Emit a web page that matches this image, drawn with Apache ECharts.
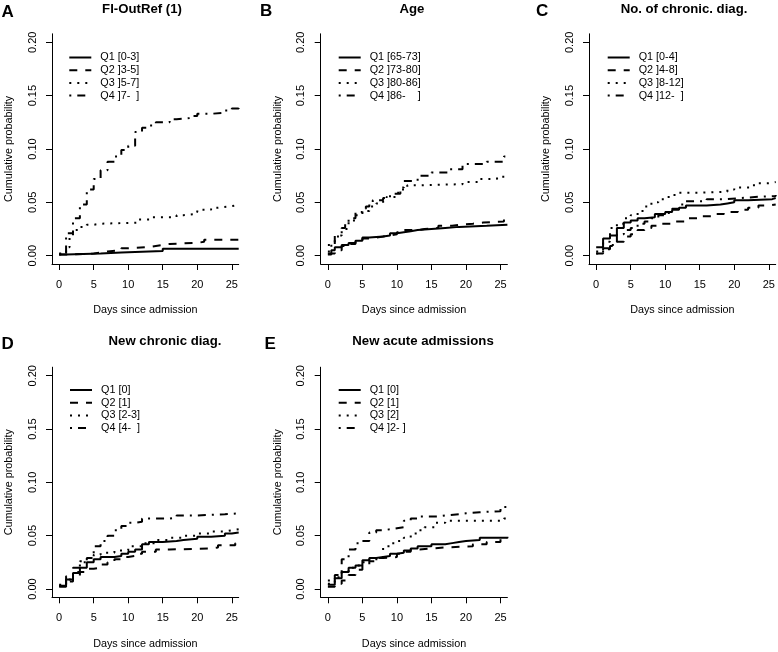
<!DOCTYPE html>
<html>
<head>
<meta charset="utf-8">
<script src="https://cdn.jsdelivr.net/npm/echarts@6/dist/echarts.min.js"></script>
<style>
html,body{margin:0;padding:0;background:#fff;}
#chart{width:778px;height:652px;}
</style>
</head>
<body>
<div id="chart"></div>
<script>
// ---------- data ----------
const panelLetters = ['A', 'B', 'C', 'D', 'E'];
const panelTitles = ['FI-OutRef (1)', 'Age', 'No. of chronic. diag.', 'New chronic diag.', 'New acute admissions'];
const xTicks = [0, 5, 10, 15, 20, 25];
const yTicks = [0, 0.05, 0.10, 0.15, 0.20];
const xTitle = 'Days since admission';
const yTitle = 'Cumulative probability';

const fiLabels = ['Q1 [0-3]', 'Q2 ]3-5]', 'Q3 ]5-7]', 'Q4 ]7-  ]'];
const ageLabels = ['Q1 [65-73]', 'Q2 ]73-80]', 'Q3 ]80-86]', 'Q4 ]86-    ]'];
const chronLabels = ['Q1 [0-4]', 'Q2 ]4-8]', 'Q3 ]8-12]', 'Q4 ]12-  ]'];
const newChronLabels = ['Q1 [0]', 'Q2 [1]', 'Q3 [2-3]', 'Q4 [4-  ]'];
const acuteLabels = ['Q1 [0]', 'Q2 [1]', 'Q3 [2]', 'Q4 ]2- ]'];

// [day, cumulative probability]
const fiQ1 = [[0,0.001],[1,0.002],[6,0.003],[9,0.0045],[15,0.0065],[26,0.0065]];
const fiQ2 = [[0,0.001],[1,0.002],[5,0.003],[6,0.004],[7,0.005],[9,0.007],[10,0.008],[13,0.009],[14,0.010],[15,0.011],[16,0.012],[20,0.013],[21,0.015],[26,0.016]];
const fiQ3 = [[0,0.002],[1,0.008],[1.5,0.018],[2,0.024],[3,0.027],[4,0.029],[5,0.030],[6,0.031],[11.5,0.034],[13.5,0.036],[17,0.038],[18,0.039],[19.5,0.041],[20,0.043],[22,0.045],[23,0.046],[24.5,0.047],[25.5,0.048],[26,0.048]];
const fiQ4 = [[0,0.001],[1,0.021],[2,0.035],[3,0.048],[4,0.062],[5,0.072],[6,0.080],[7,0.088],[8,0.093],[9,0.099],[10,0.103],[11,0.116],[12,0.120],[13,0.122],[14,0.125],[16,0.128],[17,0.129],[19,0.131],[20,0.133],[22,0.134],[24,0.136],[25,0.138],[26,0.139]];

const ageQ1 = [[0,0.001],[0.5,0.005],[1,0.008],[2,0.010],[3,0.012],[4,0.014],[5,0.017],[6,0.018],[8,0.019],[9,0.021],[10,0.022],[11,0.023],[12,0.024],[13,0.025],[15,0.026],[17,0.027],[19,0.028],[23,0.029],[26,0.029]];
const ageQ2 = [[0,0.002],[1,0.005],[2,0.009],[3,0.011],[4,0.013],[5,0.016],[6,0.017],[7,0.018],[8,0.019],[9,0.020],[10,0.022],[11,0.024],[13,0.025],[14,0.026],[16,0.028],[18,0.029],[19,0.030],[21,0.031],[22.5,0.032],[25.5,0.034],[26,0.034]];
const ageQ3 = [[0,0.004],[0.5,0.012],[1,0.018],[2,0.025],[3,0.033],[4,0.038],[5,0.042],[6,0.046],[7,0.049],[8,0.052],[8.5,0.055],[10,0.059],[10.5,0.062],[11.5,0.066],[13,0.067],[19.5,0.069],[22,0.072],[24.5,0.074],[26,0.075]];
const ageQ4 = [[0,0.010],[1,0.019],[2,0.026],[2.5,0.030],[3,0.035],[4,0.041],[5,0.044],[5.5,0.046],[6,0.049],[6.5,0.052],[8,0.054],[9,0.058],[10.5,0.064],[11,0.070],[13,0.075],[15,0.078],[17.5,0.081],[19.5,0.086],[23,0.088],[25.5,0.093],[26,0.093]];

const chronQ1 = [[0,0.008],[1,0.016],[2,0.019],[3,0.026],[4,0.031],[5,0.033],[6,0.035],[7,0.036],[8.5,0.039],[10,0.041],[11,0.043],[12,0.045],[13,0.047],[16,0.048],[18,0.049],[19,0.050],[20,0.052],[22,0.053],[25.5,0.054],[26,0.054]];
const chronQ2 = [[0,0.002],[1,0.006],[2,0.009],[3,0.013],[4,0.018],[5,0.020],[6,0.024],[7,0.026],[8,0.028],[9.5,0.030],[11,0.032],[13,0.035],[15,0.037],[17,0.039],[18.5,0.041],[20.5,0.043],[22,0.045],[23.5,0.047],[25,0.048],[26,0.048]];
const chronQ3 = [[0,0.002],[1,0.013],[2,0.026],[3,0.030],[4,0.035],[5,0.038],[6,0.042],[7,0.046],[8,0.050],[9,0.053],[10,0.055],[11,0.057],[12,0.059],[15,0.060],[19,0.062],[20,0.064],[22.5,0.066],[23,0.068],[25,0.069],[26,0.069]];
const chronQ4 = [[0,0.004],[1,0.007],[2,0.010],[3,0.020],[4,0.024],[5,0.026],[6,0.030],[7,0.032],[8,0.035],[9,0.038],[10,0.040],[11,0.044],[12,0.048],[13,0.051],[16,0.053],[19,0.054],[21,0.055],[23,0.056],[26,0.057]];

const newChronQ1 = [[0,0.003],[1,0.009],[2,0.015],[3,0.020],[4,0.025],[5,0.028],[6,0.030],[8,0.031],[9,0.033],[10,0.035],[11,0.037],[12,0.042],[13,0.044],[15,0.045],[17,0.046],[18,0.047],[20,0.049],[22,0.050],[24,0.052],[25,0.053],[26,0.053]];
const newChronQ2 = [[0,0.002],[1,0.007],[2,0.012],[3,0.016],[4,0.019],[5,0.020],[6,0.023],[7,0.025],[8,0.028],[9,0.030],[10,0.031],[11,0.033],[12,0.035],[14,0.037],[16,0.038],[22,0.039],[23,0.041],[25.5,0.043],[26,0.043]];
const newChronQ3 = [[0,0.003],[1,0.009],[2,0.016],[3,0.025],[4,0.029],[5,0.032],[6,0.034],[8,0.036],[10,0.040],[12,0.043],[14,0.046],[16,0.048],[18,0.050],[20,0.052],[22,0.054],[24,0.055],[25,0.056],[26,0.056]];
const newChronQ4 = [[0,0.004],[1,0.012],[2,0.020],[3,0.026],[4,0.029],[5,0.040],[6,0.045],[7,0.050],[8,0.055],[9,0.059],[10,0.062],[11,0.063],[12,0.066],[16,0.067],[17,0.069],[20,0.070],[24,0.071],[26,0.071]];

const acuteQ1 = [[0,0.004],[1,0.010],[2,0.016],[3,0.020],[4,0.022],[5,0.027],[6,0.029],[7,0.030],[8,0.031],[9,0.033],[10,0.034],[11,0.036],[12,0.038],[13,0.040],[15,0.042],[17,0.043],[18,0.044],[19,0.045],[20,0.046],[22,0.048],[26,0.049]];
const acuteQ2 = [[0,0.002],[1,0.005],[2,0.008],[3,0.013],[4,0.018],[5,0.022],[6,0.026],[7,0.029],[8,0.030],[10,0.033],[11,0.035],[12,0.037],[13,0.038],[15,0.039],[17,0.040],[21,0.042],[23,0.044],[25,0.047],[26,0.048]];
const acuteQ3 = [[0,0.005],[1,0.011],[2,0.016],[3,0.020],[4,0.022],[5,0.025],[6,0.028],[7.5,0.029],[8,0.040],[9,0.043],[10,0.045],[11,0.048],[12,0.052],[13,0.055],[14,0.058],[15.5,0.062],[17,0.064],[25.5,0.066],[26,0.066]];
const acuteQ4 = [[0,0.008],[1,0.013],[2,0.028],[3,0.037],[4,0.043],[5,0.045],[6,0.053],[7,0.055],[8,0.056],[9,0.057],[10,0.058],[11,0.064],[12,0.066],[13,0.068],[16,0.069],[17,0.070],[19,0.071],[20,0.072],[22,0.073],[25,0.077],[26,0.077]];

const panelLabels = [fiLabels, ageLabels, chronLabels, newChronLabels, acuteLabels];
const panelSeries = [
  [fiQ1, fiQ2, fiQ3, fiQ4],
  [ageQ1, ageQ2, ageQ3, ageQ4],
  [chronQ1, chronQ2, chronQ3, chronQ4],
  [newChronQ1, newChronQ2, newChronQ3, newChronQ4],
  [acuteQ1, acuteQ2, acuteQ3, acuteQ4]
];

// ---------- layout / style ----------
const FONT = '"Liberation Sans", Arial, Helvetica, sans-serif';
const X_MIN = -1.04, X_MAX = 26, Y_MIN = -0.0078, Y_MAX = 0.208;
const gridBoxes = [
  {left: 52,    top: 33.8,  width: 186.7, height: 230.2},
  {left: 320.7, top: 33.8,  width: 186.7, height: 230.2},
  {left: 589,   top: 33.8,  width: 186.7, height: 230.2},
  {left: 52,    top: 367.2, width: 186.7, height: 230.1},
  {left: 320.7, top: 367.2, width: 186.7, height: 230.1}
];
const titlePos = [[142, 9], [412, 9], [684, 9], [165, 341.5], [423, 341.5]];
const letterPos = [[1.5, 12.2], [260, 11.2], [536, 11.2], [1.5, 344], [264.5, 344]];
const legendPos = [[68.3, 52], [337.7, 52], [606.7, 52], [69, 384.5], [337.7, 384.5]];
const dashTypes = ['solid', [8, 8], [2, 6], [2, 6, 8, 6]];

const grid = [], xAxis = [], yAxis = [], series = [], legend = [], graphic = [];

gridBoxes.forEach((g, i) => {
  grid.push(Object.assign({containLabel: false, outerBoundsMode: 'none'}, g));
  xAxis.push({
    gridIndex: i, type: 'value', min: X_MIN, max: X_MAX,
    axisLine: {show: true, onZero: false, lineStyle: {color: '#000', width: 1}},
    axisTick: {show: true, length: 6, customValues: xTicks, lineStyle: {color: '#000', width: 1}},
    axisLabel: {customValues: xTicks, margin: 15, fontSize: 11, color: '#000', fontFamily: FONT},
    splitLine: {show: false},
    name: xTitle, nameLocation: 'middle', nameGap: 41,
    nameTextStyle: {fontSize: 10.8, color: '#000', fontFamily: FONT}
  });
  yAxis.push({
    gridIndex: i, type: 'value', min: Y_MIN, max: Y_MAX,
    axisLine: {show: true, onZero: false, lineStyle: {color: '#000', width: 1}},
    axisTick: {show: true, length: 6, customValues: yTicks, lineStyle: {color: '#000', width: 1}},
    axisLabel: {customValues: yTicks, rotate: 90, margin: 14, fontSize: 11, color: '#000', fontFamily: FONT,
      formatter: v => Number(v).toFixed(2)},
    splitLine: {show: false},
    name: yTitle, nameLocation: 'middle', nameGap: 37,
    nameTextStyle: {fontSize: 10.8, color: '#000', fontFamily: FONT}
  });
  panelSeries[i].forEach((data, k) => {
    series.push({
      type: 'line', name: panelLabels[i][k], xAxisIndex: i, yAxisIndex: i,
      data: data, step: 'end', symbol: 'none', showSymbol: false, silent: true,
      lineStyle: {color: '#000', width: 2, type: dashTypes[k], cap: 'butt'},
      itemStyle: {color: '#000'},
      emphasis: {disabled: true}
    });
  });
  legend.push({
    orient: 'vertical', left: legendPos[i][0], top: legendPos[i][1], padding: 0,
    itemWidth: 22, itemHeight: 12, itemGap: 1.7, selectedMode: false,
    data: panelLabels[i],
    itemStyle: {opacity: 0},
    textStyle: {fontSize: 10.8, color: '#000', fontFamily: FONT, padding: [0, 0, 0, 4]}
  });
  graphic.push({
    type: 'text', x: titlePos[i][0], y: titlePos[i][1], silent: true,
    style: {text: panelTitles[i], fill: '#000', font: 'bold 13.2px ' + FONT, textAlign: 'center', textVerticalAlign: 'middle'}
  });
  graphic.push({
    type: 'text', x: letterPos[i][0], y: letterPos[i][1], silent: true,
    style: {text: panelLetters[i], fill: '#000', font: 'bold 17px ' + FONT, textAlign: 'left', textVerticalAlign: 'middle'}
  });
});

const chart = echarts.init(document.getElementById('chart'), null, {renderer: 'canvas'});
chart.setOption({
  animation: false,
  backgroundColor: '#fff',
  grid, xAxis, yAxis, series, legend, graphic
});
</script>
</body>
</html>
